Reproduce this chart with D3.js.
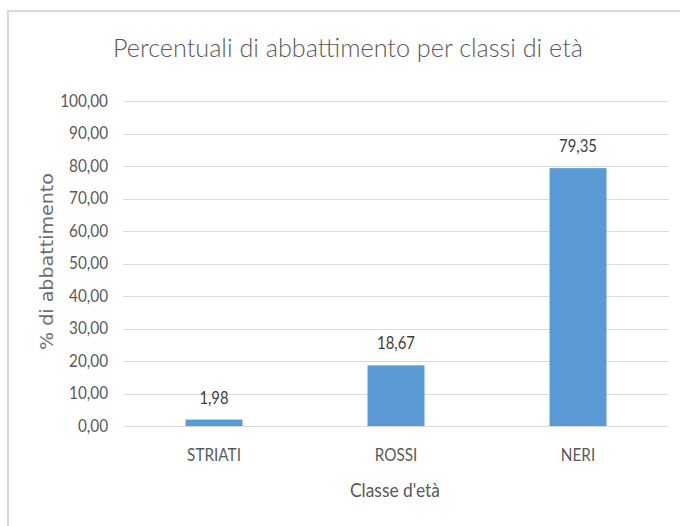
<!DOCTYPE html>
<html>
<head>
<meta charset="utf-8">
<script src="https://cdn.jsdelivr.net/npm/d3@7"></script>
<style>
  html, body { margin: 0; padding: 0; background: #fff; }
  svg { display: block; }
</style>
</head>
<body>
<svg id="chart" width="680" height="526"></svg>
<script>
const categories = ["STRIATI", "ROSSI", "NERI"];
const values = [1.98, 18.67, 79.35];
const yTicks = [0, 10, 20, 30, 40, 50, 60, 70, 80, 90, 100];
const titleText = "Percentuali di abbattimento per classi di età";
const xTitle = "Classe d'età";
const yTitle = "% di abbattimento";

const svg = d3.select("#chart");
const fmt = v => d3.format(".2f")(v).replace(".", ",");
const font = "Lato, 'Open Sans', sans-serif";

function condense(sel, f) {
  sel.each(function () {
    const L = this.getComputedTextLength();
    this.setAttribute("textLength", L * f);
    this.setAttribute("lengthAdjust", "spacingAndGlyphs");
  });
}

// outer chart border
svg.append("path")
  .attr("d", "M681,11 H8 V527")
  .attr("fill", "none").attr("stroke", "#d9d9d9").attr("stroke-width", 2);

const plot = { left: 123, right: 669, top: 101, bottom: 426 };

const x = d3.scaleBand().domain(categories).range([plot.left, plot.right]).paddingInner(0.687).paddingOuter(0.3435);
const y = d3.scaleLinear().domain([0, 100]).range([plot.bottom, plot.top]);

// gridlines
svg.append("g").selectAll("line").data(yTicks).join("line")
  .attr("x1", plot.left).attr("x2", plot.right)
  .attr("y1", d => Math.round(y(d)) + 0.5).attr("y2", d => Math.round(y(d)) + 0.5)
  .attr("stroke", "#d9d9d9").attr("stroke-width", 1);

// y axis labels
const yAxis = d3.axisLeft(y).tickValues(yTicks).tickFormat(fmt).tickSize(0).tickPadding(15);
const gy = svg.append("g").attr("transform", `translate(${plot.left},0)`).call(yAxis);
gy.select(".domain").remove();
gy.selectAll("text").attr("font-family", font).attr("font-size", 17).attr("fill", "#595959").call(condense, 0.9);

// bars
svg.append("g").selectAll("rect").data(values).join("rect")
  .attr("x", (d, i) => x(categories[i]))
  .attr("width", x.bandwidth())
  .attr("y", d => y(d))
  .attr("height", d => y(0) - y(d))
  .attr("fill", "#5b9bd5");

// data labels
svg.append("g").selectAll("text").data(values).join("text")
  .attr("x", (d, i) => x(categories[i]) + x.bandwidth() / 2)
  .attr("y", d => y(d) - 16)
  .attr("text-anchor", "middle")
  .attr("font-family", font).attr("font-size", 16.5).attr("fill", "#404040")
  .text(fmt).call(condense, 0.9);

// x axis
const xAxis = d3.axisBottom(x).tickSize(0).tickPadding(23);
const gx = svg.append("g").attr("transform", `translate(0,${plot.bottom})`).call(xAxis);
gx.select(".domain").remove();
gx.selectAll("text").attr("font-family", font).attr("font-size", 17).attr("fill", "#595959").call(condense, 0.9);

// titles
svg.append("text").attr("x", 348).attr("y", 57).attr("text-anchor", "middle")
  .attr("font-family", font).attr("font-size", 24.5).attr("font-weight", 300).attr("fill", "#595959")
  .attr("textLength", 470).attr("lengthAdjust", "spacingAndGlyphs")
  .text(titleText);

svg.append("text").attr("x", 395).attr("y", 497).attr("text-anchor", "middle")
  .attr("font-family", font).attr("font-size", 18.5).attr("fill", "#595959")
  .attr("textLength", 90).attr("lengthAdjust", "spacingAndGlyphs")
  .text(xTitle);

svg.append("text").attr("transform", "translate(53,261.5) rotate(-90)").attr("text-anchor", "middle")
  .attr("font-family", "'DejaVu Sans', sans-serif").attr("font-size", 18).attr("fill", "#6e6e6e")
  .attr("textLength", 177).attr("lengthAdjust", "spacingAndGlyphs")
  .text(yTitle);
</script>
</body>
</html>
